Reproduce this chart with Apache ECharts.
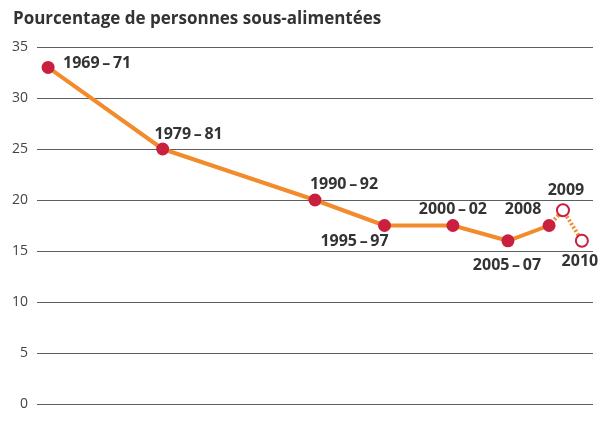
<!DOCTYPE html>
<html lang="fr">
<head>
    <meta charset="UTF-8">
    <title>Pourcentage de personnes sous-alimentées</title>
    <script src="https://cdn.jsdelivr.net/npm/echarts@6/dist/echarts.min.js"></script>
    <style>
        html, body { margin: 0; padding: 0; background: #fff; }
        #main { width: 603px; height: 425px; }
    </style>
</head>
<body>
<div id="main"></div>
<script>
    // periodes et valeurs
    var periods = ['1969\u2009–\u200971', '1979\u2009–\u200981', '1990\u2009–\u200992', '1995\u2009–\u200997',
                   '2000\u2009–\u200902', '2005\u2009–\u200907', '2008', '2009', '2010'];
    var values = [33, 25, 20, 17.5, 17.5, 16, 17.5, 19, 16];
    // position horizontale de chaque point sur l'axe (echelle 0-100, comme dessinee)
    var xPos = [2, 22.6, 50, 62.5, 74.8, 84.7, 92.1, 94.6, 98];
    var yTicks = [0, 5, 10, 15, 20, 25, 30, 35];
    var lastSolid = 6; // 2008 : dernier point en trait plein

    // decalage des etiquettes par rapport au point
    var labelOffsets = [[49, -4], [26, -15], [29, -16], [-30, 16], [0, -16], [-1, 25], [-26, -16], [3, -20], [-2, 21]];

    var orange = '#F28B2C';
    var red = '#C8203E';

    function point(i, hollow) {
        return {
            value: [xPos[i], values[i]],
            name: periods[i],
            itemStyle: hollow ? { color: '#fff', borderColor: red, borderWidth: 2 } : { color: red },
            label: { show: true, offset: labelOffsets[i] }
        };
    }

    var solidData = [];
    for (var i = 0; i <= lastSolid; i++) solidData.push(point(i, false));
    var dottedData = [];
    for (var j = lastSolid; j < periods.length; j++) {
        var p = point(j, true);
        if (j === lastSolid) { p.symbol = 'none'; p.label = { show: false }; }
        dottedData.push(p);
    }

    var labelStyle = {
        position: 'inside',
        formatter: '{b}',
        fontFamily: 'Open Sans',
        fontWeight: 700,
        fontSize: 16,
        color: '#333'
    };

    var myChart = echarts.init(document.getElementById('main'));
    var option = {
        animation: false,
        title: {
            text: 'Pourcentage de personnes sous-alimentées',
            left: 8,
            top: 6,
            textStyle: { fontFamily: 'Open Sans', fontWeight: 700, fontSize: 17, color: '#333' }
        },
        grid: { left: 37, right: 10, top: 47, bottom: 21 },
        xAxis: {
            type: 'value', min: 0, max: 100, show: false
        },
        yAxis: {
            type: 'value',
            min: yTicks[0],
            max: yTicks[yTicks.length - 1],
            interval: 5,
            axisLine: { show: false },
            axisTick: { show: false },
            axisLabel: { margin: 9, fontFamily: 'Open Sans', fontSize: 14, color: '#444' },
            splitLine: { lineStyle: { color: '#5e5e5e', width: 1 } }
        },
        series: [
            {
                type: 'line',
                data: dottedData,
                symbol: 'circle',
                symbolSize: 12,
                z: 2,
                lineStyle: { color: orange, width: 4, type: [2, 2] },
                label: labelStyle
            },
            {
                type: 'line',
                data: solidData,
                symbol: 'circle',
                symbolSize: 13,
                z: 3,
                lineStyle: { color: orange, width: 4 },
                label: labelStyle
            }
        ]
    };
    myChart.setOption(option);
</script>
</body>
</html>
